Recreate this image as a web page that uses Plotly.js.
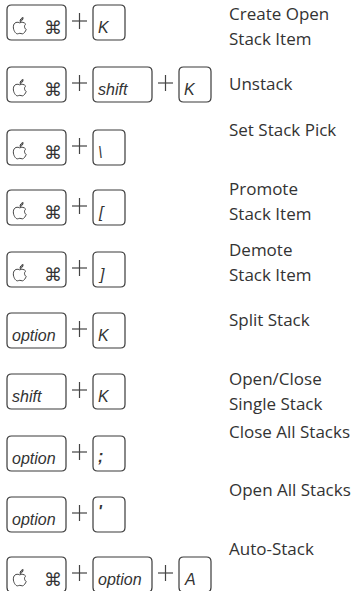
<!DOCTYPE html>
<html>
<head>
<meta charset="utf-8">
<script src="https://cdn.plot.ly/plotly-3.0.1.min.js"></script>
<style>html,body{margin:0;padding:0;background:#fff;}#chart{width:356px;height:591px;}</style>
</head>
<body>
<div id="chart"></div>
<script>
// ---- data ----
const actions = [
  'Create Open\nStack Item',
  'Unstack',
  'Set Stack Pick',
  'Promote\nStack Item',
  'Demote\nStack Item',
  'Split Stack',
  'Open/Close\nSingle Stack',
  'Close All Stacks',
  'Open All Stacks',
  'Auto-Stack'
];
const combos = [
  ['cmd', 'K'],
  ['cmd', 'shift', 'K'],
  ['cmd', '\\'],
  ['cmd', '['],
  ['cmd', ']'],
  ['option', 'K'],
  ['shift', 'K'],
  ['option', ';'],
  ['option', "'"],
  ['cmd', 'option', 'A']
];
const wideKeys = ['cmd', 'shift', 'option'];

// ---- layout constants (pixels) ----
const W = 356, H = 591;
const rowTops = [5, 67, 130, 190, 252, 313, 374, 436, 497, 557];
const labelCapTops = [7, 77, 123, 182, 243, 313, 372, 425, 483, 542];
const KEY_H = 35, WIDE_W = 59, NARROW_W = 32, KEY_GAP = 27, X0 = 7;
const LABEL_X = 228, LINE_GAP = 25, R = 4.5;
const KEY_STROKE = '#3a3a3a', TEXT = '#333333';
const glyphDy = {"'": -8, ';': -2};

function roundRect(x, y, w, h, r) {
  return `M${x + r},${y} L${x + w - r},${y} Q${x + w},${y} ${x + w},${y + r} ` +
         `L${x + w},${y + h - r} Q${x + w},${y + h} ${x + w - r},${y + h} ` +
         `L${x + r},${y + h} Q${x},${y + h} ${x},${y + h - r} ` +
         `L${x},${y + r} Q${x},${y} ${x + r},${y} Z`;
}
const appleLeaf = 'M6.3,3.6 C6.2,1.8 7.3,0.5 9,0 C9.1,1.8 8,3.2 6.3,3.6 Z';
const appleBody = 'M6,4.8 C4.6,3.9 0.5,3.6 0.3,8.3 C0.2,11.3 2.3,14.6 3.9,14.6 C4.9,14.6 5.3,14.1 6.1,14.1 ' +
                  'C6.9,14.1 7.4,14.6 8.4,14.6 C9.8,14.5 11.2,12.3 11.8,10.6 C10.2,9.9 9.6,7.1 11.3,5.9 ' +
                  'C10.1,4.1 7.6,3.9 6,4.8 Z';
function shiftPath(p, dx, dy, s) {
  return p.replace(/(-?[\d.]+),(-?[\d.]+)/g, (m, a, b) => (dx + s * a).toFixed(2) + ',' + (dy + s * b).toFixed(2));
}

const shapes = [];
const annotations = [];

combos.forEach((keys, i) => {
  const top = rowTops[i];
  let x = X0;
  keys.forEach((k, j) => {
    const w = wideKeys.includes(k) ? WIDE_W : NARROW_W;
    shapes.push({type: 'path', xref: 'x', yref: 'y', path: roundRect(x, top, w, KEY_H, R),
                 line: {color: KEY_STROKE, width: 1.2}});
    if (k === 'cmd') {
      shapes.push({type: 'path', xref: 'x', yref: 'y', path: shiftPath(appleBody, x + 6, top + 12.5, 1.12),
                   line: {color: '#444', width: 1}});
      shapes.push({type: 'path', xref: 'x', yref: 'y', path: shiftPath(appleLeaf, x + 6, top + 12.5, 1.12),
                   line: {color: '#444', width: 1}, fillcolor: '#888'});
      annotations.push({x: x + 45.5, y: top + 22, xref: 'x', yref: 'y', text: '\u2318', showarrow: false,
                        xanchor: 'center', yanchor: 'middle', borderpad: 0,
                        font: {family: 'DejaVu Sans', size: 18, color: TEXT}});
    } else {
      const bold = (k === ';' || k === "'");
      annotations.push({x: x + 4, y: top + KEY_H - 3 + (glyphDy[k] || 0), xref: 'x', yref: 'y',
                        text: bold ? '<b>' + k + '</b>' : k, showarrow: false,
                        xanchor: 'left', yanchor: 'bottom', borderpad: 0,
                        font: {family: 'Liberation Sans', size: 16, color: TEXT, style: 'italic'}});
    }
    x += w;
    if (j < keys.length - 1) {
      const cx = x + 13.5, cy = top + KEY_H / 2 - 1.5;
      shapes.push({type: 'line', xref: 'x', yref: 'y', x0: cx - 7.5, x1: cx + 7.5, y0: cy, y1: cy,
                   line: {color: '#444', width: 1.2}});
      shapes.push({type: 'line', xref: 'x', yref: 'y', x0: cx, x1: cx, y0: cy - 8, y1: cy + 8,
                   line: {color: '#444', width: 1.2}});
      x += KEY_GAP;
    }
  });
  actions[i].split('\n').forEach((line, li) => {
    annotations.push({x: LABEL_X, y: labelCapTops[i] + 6.5 + li * LINE_GAP, xref: 'x', yref: 'y',
                      text: line, showarrow: false, xanchor: 'left', yanchor: 'middle', borderpad: 0,
                      font: {family: 'Open Sans', size: 17, color: TEXT}});
  });
});

const layout = {
  width: W, height: H,
  margin: {l: 0, r: 0, t: 0, b: 0},
  paper_bgcolor: '#ffffff', plot_bgcolor: '#ffffff',
  xaxis: {range: [0, W], visible: false, fixedrange: true},
  yaxis: {range: [H, 0], visible: false, fixedrange: true},
  showlegend: false,
  shapes: shapes,
  annotations: annotations
};
Plotly.newPlot('chart', [{x: [], y: [], type: 'scatter', mode: 'markers', hoverinfo: 'skip'}], layout,
               {staticPlot: true, displayModeBar: false});
</script>
</body>
</html>
